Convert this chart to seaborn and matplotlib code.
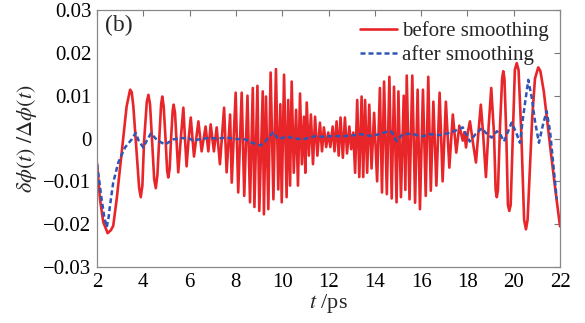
import matplotlib
matplotlib.use("Agg")
import matplotlib.pyplot as plt
import matplotlib.ticker as mticker
import numpy as np
import pandas as pd
import seaborn as sns

# red curve: before smoothing (t in ps, relative phase error)
t_before = [
    2.00, 2.13, 2.27, 2.46, 2.60, 2.70, 2.85, 2.99, 3.14, 3.28, 3.43, 3.50, 3.57, 3.71, 3.82, 3.89,
    3.96, 4.03, 4.15, 4.22, 4.29, 4.36, 4.47, 4.54, 4.61, 4.68, 4.77, 4.82, 4.88, 4.96, 5.03, 5.08,
    5.14, 5.20, 5.27, 5.31, 5.37, 5.44, 5.51, 5.62, 5.73, 5.80, 5.87, 5.96, 6.05, 6.19, 6.38, 6.52,
    6.69, 6.81, 6.91, 7.05, 7.17, 7.31, 7.49, 7.60, 7.75, 7.82, 7.99, 8.10, 8.25, 8.36, 8.50, 8.61,
    8.73, 8.80, 8.93, 9.01, 9.16, 9.21, 9.30, 9.40, 9.50, 9.62, 9.73, 9.83, 9.92, 9.98, 10.08, 10.19,
    10.26, 10.34, 10.41, 10.50, 10.60, 10.68, 10.77, 10.85, 10.94, 11.00, 11.06, 11.15, 11.24, 11.33,
    11.42, 11.52, 11.63, 11.72, 11.80, 11.90, 11.99, 12.08, 12.18, 12.26, 12.35, 12.44, 12.52, 12.62,
    12.71, 12.80, 12.90, 12.98, 13.07, 13.15, 13.24, 13.33, 13.43, 13.50, 13.58, 13.67, 13.76, 13.86,
    13.97, 14.10, 14.22, 14.31, 14.40, 14.52, 14.63, 14.73, 14.83, 14.94, 15.02, 15.13, 15.25, 15.32,
    15.38, 15.50, 15.62, 15.74, 15.85, 15.95, 16.08, 16.20, 16.31, 16.42, 16.53, 16.66, 16.80, 16.93,
    17.07, 17.22, 17.37, 17.52, 17.65, 17.80, 17.87, 17.94, 18.02, 18.11, 18.24, 18.37, 18.47, 18.58,
    18.68, 18.80, 18.92, 19.03, 19.15, 19.22, 19.27, 19.32, 19.41, 19.50, 19.55, 19.60, 19.68, 19.75,
    19.81, 19.87, 19.97, 20.05, 20.13, 20.21, 20.33, 20.45, 20.53, 20.60, 20.80, 20.92, 21.06, 21.15,
    21.30, 21.45, 21.60, 21.80, 22.00,
]
v_before = [
    -0.0058, -0.0142, -0.0195, -0.0221, -0.0214, -0.0204, -0.0142, -0.0072, 0.0002, 0.0075, 0.0114,
    0.0108, 0.0075, -0.0033, -0.0115, -0.0137, -0.0110, -0.0010, 0.0085, 0.0102, 0.0080, 0.0014,
    -0.0095, -0.0116, -0.0085, -0.0010, 0.0080, 0.0098, 0.0075, 0.0000, -0.0075, -0.0091, -0.0070,
    0.0000, 0.0065, 0.0079, 0.0060, -0.0010, -0.0079, 0.0000, 0.0072, 0.0000, -0.0065, 0.0000,
    0.0049, -0.0042, 0.0040, -0.0030, 0.0028, -0.0030, 0.0033, -0.0030, 0.0026, -0.0060, 0.0072,
    -0.0079, 0.0056, -0.0103, 0.0107, -0.0126, 0.0107, -0.0134, 0.0100, -0.0149, 0.0118, -0.0160,
    0.0123, -0.0169, 0.0110, -0.0177, 0.0098, -0.0165, 0.0154, -0.0142, 0.0162, -0.0119, 0.0080,
    -0.0149, 0.0149, -0.0137, 0.0090, -0.0110, 0.0133, -0.0080, 0.0067, -0.0110, 0.0105, -0.0060,
    0.0051, -0.0080, 0.0084, -0.0040, 0.0056, -0.0060, 0.0051, -0.0040, 0.0037, -0.0030, 0.0026,
    -0.0020, 0.0014, -0.0020, 0.0028, -0.0030, 0.0040, -0.0040, 0.0049, -0.0045, 0.0049, -0.0035,
    0.0028, -0.0025, 0.0014, -0.0080, 0.0090, -0.0090, 0.0098, -0.0090, 0.0090, -0.0080, 0.0079,
    -0.0070, 0.0060, -0.0100, 0.0118, -0.0126, 0.0133, -0.0130, 0.0144, -0.0140, 0.0121, -0.0149,
    0.0110, -0.0137, 0.0100, -0.0120, 0.0147, -0.0142, 0.0147, -0.0150, 0.0114, -0.0165, 0.0114,
    -0.0134, 0.0144, -0.0122, 0.0086, -0.0110, 0.0107, -0.0100, 0.0086, -0.0068, 0.0056, -0.0033,
    0.0030, -0.0005, 0.0015, -0.0021, 0.0015, 0.0040, -0.0010, -0.0056, 0.0010, 0.0079, 0.0010,
    -0.0090, 0.0030, 0.0118, 0.0010, -0.0120, -0.0137, -0.0120, 0.0030, 0.0140, 0.0157, 0.0140,
    0.0010, -0.0155, -0.0169, -0.0155, 0.0020, 0.0160, 0.0176, 0.0160, 0.0010, -0.0190, -0.0212,
    -0.0190, 0.0050, 0.0140, 0.0166, 0.0158, 0.0110, 0.0040, -0.0030, -0.0120, -0.0205,
]

# blue curve: after smoothing
t_after = [
    2.00, 2.10, 2.20, 2.32, 2.42, 2.50, 2.56, 2.70, 2.92, 3.21, 3.50, 3.67, 3.80, 4.00, 4.15, 4.33,
    4.60, 4.94, 5.30, 5.70, 6.00, 6.16, 6.40, 6.80, 7.20, 7.60, 8.00, 8.40, 8.70, 9.04, 9.20, 9.40,
    9.62, 9.83, 10.20, 10.50, 10.90, 11.40, 11.80, 12.20, 12.60, 13.00, 13.40, 13.80, 14.20, 14.58,
    14.72, 14.94, 15.20, 15.60, 16.04, 16.40, 16.80, 17.30, 17.80, 18.10, 18.35, 18.62, 18.85, 19.05,
    19.27, 19.40, 19.58, 19.91, 20.10, 20.27, 20.42, 20.56, 20.63, 20.78, 20.92, 21.09, 21.25, 21.42,
    21.57, 21.71, 21.86,
]
v_after = [
    -0.0060, -0.0100, -0.0142, -0.0185, -0.0207, -0.0185, -0.0157, -0.0103, -0.0056, -0.0021,
    -0.0002, 0.0013, -0.0005, -0.0021, -0.0005, 0.0012, -0.0004, -0.0014, -0.0002, 0.0001, 0.0000,
    -0.0006, -0.0002, 0.0001, 0.0000, 0.0002, -0.0001, -0.0002, -0.0010, -0.0016, -0.0012, 0.0002,
    0.0015, -0.0002, 0.0005, 0.0000, -0.0002, 0.0005, 0.0004, 0.0006, 0.0005, 0.0007, 0.0010,
    0.0006, 0.0010, 0.0017, 0.0016, -0.0006, 0.0010, 0.0011, 0.0005, 0.0010, 0.0008, 0.0014,
    0.0026, -0.0007, 0.0010, 0.0024, 0.0010, 0.0002, 0.0017, 0.0012, -0.0007, 0.0037, 0.0015,
    -0.0010, 0.0056, 0.0110, 0.0137, 0.0095, 0.0040, -0.0010, 0.0029, 0.0064, 0.0017, -0.0060,
    -0.0142,
]

x_ticks = [2, 4, 6, 8, 10, 12, 14, 16, 18, 20, 22]
y_ticks = [-0.03, -0.02, -0.01, 0, 0.01, 0.02, 0.03]

sns.set_style("white")
plt.rcParams["font.family"] = ["Liberation Serif", "DejaVu Serif"]
plt.rcParams["mathtext.fontset"] = "stix"

df_before = pd.DataFrame({"t": t_before, "v": v_before})
df_after = pd.DataFrame({"t": t_after, "v": v_after})

fig = plt.figure(figsize=(5.85, 3.23), dpi=100)
ax = fig.add_axes([97 / 585, 1 - 267 / 323, 463 / 585, 257 / 323])

sns.lineplot(data=df_before, x="t", y="v", ax=ax, color="#e8262a", lw=1.9,
             label="before smoothing", estimator=None, sort=False)
sns.lineplot(data=df_after, x="t", y="v", ax=ax, color="#2f55b5", lw=1.8,
             dashes=False, label="after smoothing", estimator=None, sort=False)
ax.lines[1].set_dashes((2.0, 1.2))

ax.set_xlim(2, 22)
ax.set_ylim(-0.03, 0.03)
ax.set_xticks(x_ticks)
ax.set_yticks(y_ticks)
ax.yaxis.set_major_formatter(mticker.FuncFormatter(
    lambda v, p: "0" if abs(v) < 1e-9 else f"{v:.2f}".replace("-", "\u2212")))
ax.tick_params(direction="in", length=4, width=0.8, colors="#777777",
               labelcolor="black", labelsize=15, top=True, right=True, pad=4)
for s in ax.spines.values():
    s.set_color("#888888")
    s.set_linewidth(0.9)

ax.set_xlabel("$t$ /ps", fontsize=16, labelpad=0)
ax.set_ylabel(r"$\delta\phi(t)\ /\Delta\phi(t)$", fontsize=16, labelpad=3)
ax.text(0.017, 0.94, "(b)", transform=ax.transAxes, fontsize=17, va="center")

leg = ax.legend(loc="upper right", frameon=False, fontsize=15, handlelength=1.75,
                handletextpad=0.25, borderaxespad=0.15, labelspacing=0.2)

fig.savefig("out.png", dpi=100)
